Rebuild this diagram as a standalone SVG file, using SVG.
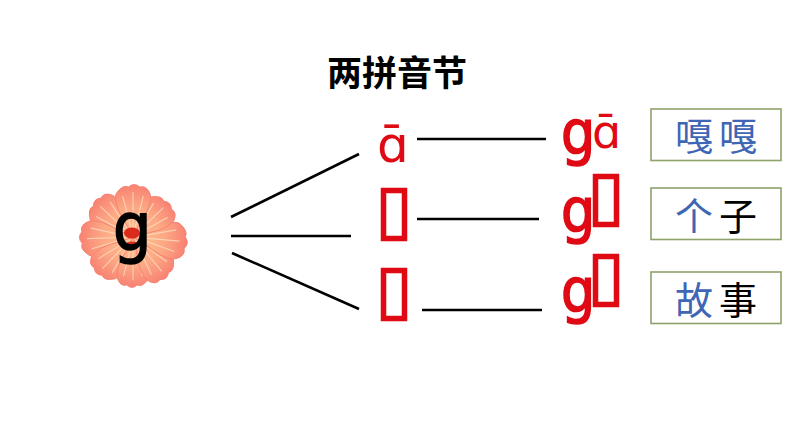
<svg xmlns="http://www.w3.org/2000/svg" width="794" height="447" viewBox="0 0 794 447">
<defs>
<style>
.ln{stroke:#000;stroke-width:2.6;fill:none;stroke-linecap:butt}
.g{fill:#e00a14;stroke:#e00a14;stroke-width:1.6;font-family:"DejaVu Sans",sans-serif;font-size:60px}
.a{fill:#e00a14;font-family:"DejaVu Sans",sans-serif}
.tofu{fill:#fff;stroke:#e00a14;stroke-width:5.5}
.box{fill:#fff;stroke:#8ea26a;stroke-width:1.6}
.cj{font-family:"Noto Sans CJK SC",sans-serif;font-size:38px;text-anchor:middle;font-weight:400}
.blue{fill:#3f66b4}
.vein{stroke:#ffe0c4;stroke-width:1;fill:none;opacity:.75}
</style>
<radialGradient id="pet" gradientUnits="userSpaceOnUse" cx="0" cy="0" r="54">
<stop offset="0" stop-color="#ffc490"/><stop offset=".55" stop-color="#fca884"/><stop offset="1" stop-color="#f77c70"/>
</radialGradient>
<g id="petal">
<path fill="url(#pet)" stroke="#f77c70" stroke-width=".8" d="M0 0C-5 -14 -17 -28 -15 -42Q-9 -52 -4 -49Q1 -54 6 -49Q12 -51 15 -42C17 -28 5 -14 0 0Z"/>
<path class="vein" d="M0 -6L0 -44M-2 -10L-9 -40M2 -10L9 -40"/>
</g>
</defs>
<rect width="794" height="447" fill="#fff"/>
<g id="title"><text x="397" y="86" text-anchor="middle" font-family="Noto Sans CJK SC,sans-serif" font-size="35" font-weight="700" fill="#000">两拼音节</text></g>
<g id="flower">
<use href="#petal" transform="translate(133,237) rotate(-47) scale(1.12,1.02)"/>
<use href="#petal" transform="translate(133,237) rotate(-92) scale(1.15,1.04)"/>
<use href="#petal" transform="translate(133,237) rotate(-136) scale(1.1,1)"/>
<use href="#petal" transform="translate(133,237) rotate(180) scale(1.05,.98)"/>
<use href="#petal" transform="translate(133,237) rotate(140) scale(1.12,1.02)"/>
<use href="#petal" transform="translate(133,237) rotate(95) scale(1.2,1.06)"/>
<use href="#petal" transform="translate(133,237) rotate(46) scale(1.12,.96)"/>
<use href="#petal" transform="translate(133,237) scale(1.15,1.02)"/>
<ellipse cx="132" cy="233" rx="8" ry="5.500" fill="#d92a1c"/><ellipse cx="132" cy="245" rx="7" ry="3.500" fill="#d92a1c"/>
<text transform="translate(113,250) scale(.92,1)" font-family="DejaVu Sans,sans-serif" font-size="66" fill="#000" stroke="#000" stroke-width="1.600">g</text>
</g>
<g id="connectors">
<line class="ln" x1="231" y1="217" x2="359" y2="154"/>
<line class="ln" x1="231" y1="236" x2="351" y2="236"/>
<line class="ln" x1="232" y1="253" x2="359" y2="309"/>
<line class="ln" x1="417" y1="139" x2="546" y2="139"/>
<line class="ln" x1="417" y1="219" x2="539" y2="219"/>
<line class="ln" x1="422" y1="310" x2="542" y2="310"/>
</g>
<g id="vowel-a"><text class="a" x="377" y="162" font-size="50">ɑ̄</text></g>
<g id="vowel-e"><rect class="tofu" x="383.500" y="190.500" width="21" height="48"/></g>
<g id="vowel-u"><rect class="tofu" x="383.500" y="270.500" width="21" height="48"/></g>
<g id="syllable-ga"><text class="g" transform="translate(561,153) scale(.9,1)">g</text><text class="a" x="592" y="148" font-size="46">ɑ̄</text></g>
<g id="syllable-ge"><text class="g" transform="translate(561,231) scale(.9,1)">g</text><rect class="tofu" x="595.500" y="176.500" width="21" height="48"/></g>
<g id="syllable-gu"><text class="g" transform="translate(561,311) scale(.9,1)">g</text><rect class="tofu" x="595.500" y="256.500" width="21" height="48"/></g>
<g id="word-gaga"><rect class="box" x="651" y="109" width="130" height="51.500"/><text class="cj blue" x="716" y="150"><tspan>嘎</tspan><tspan dx="6">嘎</tspan></text></g>
<g id="word-gezi"><rect class="box" x="651" y="188" width="130" height="51.500"/><text class="cj" x="716" y="230"><tspan class="blue">个</tspan><tspan dx="6" fill="#000">子</tspan></text></g>
<g id="word-gushi"><rect class="box" x="651" y="272" width="130" height="51.500"/><text class="cj" x="716" y="314"><tspan class="blue">故</tspan><tspan dx="6" fill="#000">事</tspan></text></g>
</svg>
